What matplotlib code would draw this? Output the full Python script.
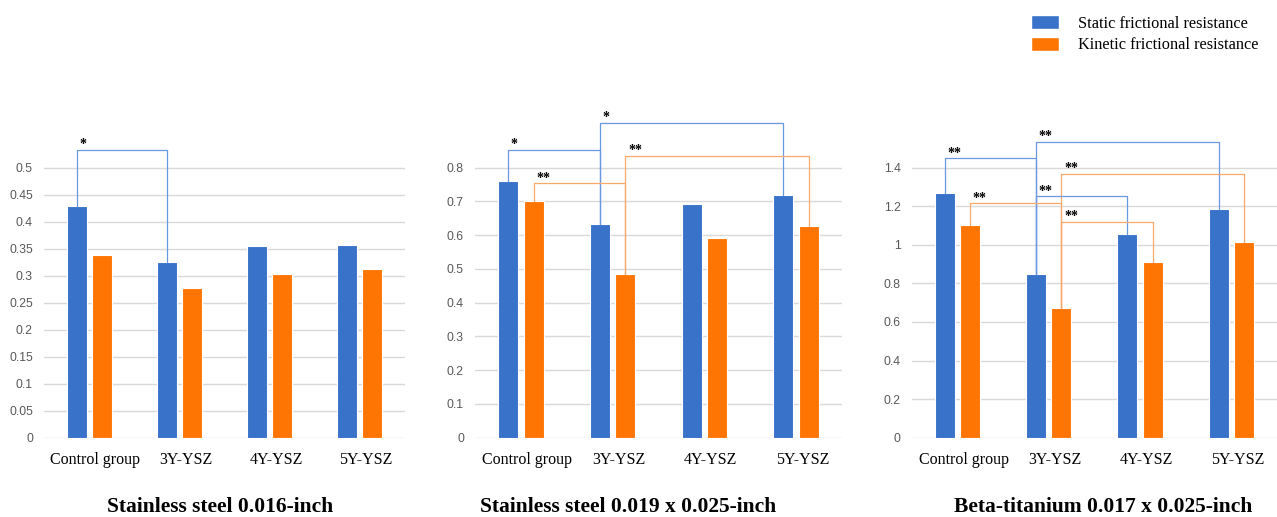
import matplotlib
matplotlib.use("Agg")
import matplotlib.pyplot as plt
from matplotlib.patches import Patch
import numpy as np

groups = ["Control group", "3Y-YSZ", "4Y-YSZ", "5Y-YSZ"]
series = ["Static frictional resistance", "Kinetic frictional resistance"]

panel_titles = ["Stainless steel 0.016-inch",
                "Stainless steel 0.019 x 0.025-inch",
                "Beta-titanium 0.017 x 0.025-inch"]

static_ss016 = [0.430, 0.325, 0.355, 0.357]
kinetic_ss016 = [0.338, 0.277, 0.304, 0.313]

static_ss019 = [0.761, 0.632, 0.692, 0.720]
kinetic_ss019 = [0.700, 0.486, 0.591, 0.626]

static_bt017 = [1.270, 0.850, 1.058, 1.184]
kinetic_bt017 = [1.104, 0.671, 0.913, 1.016]

# significance brackets: (series index, from group, to group, bracket height, label)
sig_ss016 = [(0, 0, 1, 0.533, "*")]
sig_ss019 = [(0, 0, 1, 0.853, "*"), (0, 1, 3, 0.933, "*"),
             (1, 0, 1, 0.754, "**"), (1, 1, 3, 0.835, "**")]
sig_bt017 = [(0, 0, 1, 1.449, "**"), (0, 1, 3, 1.533, "**"),
             (1, 1, 3, 1.367, "**"), (0, 1, 2, 1.252, "**"),
             (1, 0, 1, 1.215, "**"), (1, 1, 2, 1.118, "**")]

panels = [
    (static_ss016, kinetic_ss016, sig_ss016, np.arange(0, 0.51, 0.05), 0.55),
    (static_ss019, kinetic_ss019, sig_ss019, np.arange(0, 0.81, 0.1), 0.95),
    (static_bt017, kinetic_bt017, sig_bt017, np.arange(0, 1.41, 0.2), 1.60),
]

BLUE = "#3872c9"
ORANGE = "#ff7504"
LINE_COLORS = ["#6a98e0", "#f7a96c"]

W, H = 1277, 517
fig = plt.figure(figsize=(W / 100, H / 100), dpi=100)

# pixel geometry for each panel: left, right, pixel per unit
geom = [(44, 405, 540.0), (475, 842, 337.5), (911.7, 1277, 192.86)]
base_px = 437.7
title_x = [220, 628, 1103]

width = 0.22
off = 0.139
x = np.arange(len(groups))

for i, (stat, kin, sigs, ticks, ytop) in enumerate(panels):
    left, right, ppu = geom[i]
    hpx = ytop * ppu
    ax = fig.add_axes([left / W, (H - base_px) / H, (right - left) / W, hpx / H])
    vals = [stat, kin]
    pos = [x - off, x + off]
    ax.bar(pos[0], stat, width, color=BLUE, edgecolor="white", linewidth=0.8, zorder=3)
    ax.bar(pos[1], kin, width, color=ORANGE, edgecolor="white", linewidth=0.8, zorder=3)
    ax.set_xlim(-0.5, len(groups) - 0.5)
    ax.set_ylim(0, ytop)
    ax.set_yticks(ticks)
    ax.set_yticklabels([("%g" % round(t, 2)) for t in ticks],
                       fontsize=8.8, color="#595959", family="Liberation Sans")
    ax.set_xticks(x + 0.07)
    ax.set_xticklabels(groups, fontsize=11.5, family="Liberation Serif")
    ax.tick_params(axis="both", length=0)
    ax.tick_params(axis="y", pad=8)
    ax.tick_params(axis="x", pad=10)
    for s in ax.spines.values():
        s.set_visible(False)
    for t in ticks:
        ax.axhline(t, color="#d9d9d9", linewidth=1.0, zorder=1)

    for (si, g0, g1, yb, lab) in sigs:
        x0, x1 = pos[si][g0], pos[si][g1]
        ax.plot([x0, x0, x1, x1], [vals[si][g0], yb, yb, vals[si][g1]],
                color=LINE_COLORS[si], linewidth=0.9, zorder=4, clip_on=False)
        ax.annotate(lab, (x0, yb), xytext=(2, -1), textcoords="offset points",
                    ha="left", va="bottom", fontsize=10, fontweight="bold",
                    family="Liberation Serif", annotation_clip=False)

    fig.text(title_x[i] / W, 1 - 507 / H, panel_titles[i], ha="center", va="center",
             fontsize=15.5, fontweight="bold", family="Liberation Serif")

handles = [Patch(facecolor=BLUE, edgecolor="white"), Patch(facecolor=ORANGE, edgecolor="white")]
fig.legend(handles, series, loc="upper left", bbox_to_anchor=(1031 / W, 1 - 15 / H),
           frameon=False, borderpad=0, borderaxespad=0, handlelength=1.7,
           handleheight=0.95, handletextpad=1.15, labelspacing=0.3,
           prop={"family": "Liberation Serif", "size": 11.8})

fig.savefig("out.png", dpi=100, facecolor="white")
